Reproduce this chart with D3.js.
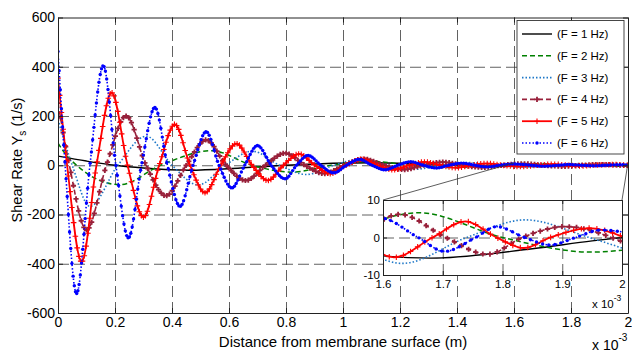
<!DOCTYPE html>
<html>
<head>
<meta charset="utf-8">
<script src="https://cdn.jsdelivr.net/npm/d3@7"></script>
<style>
  body { margin: 0; background: #fff; }
  svg { display: block; font-family: "Liberation Sans", Arial, sans-serif; }
</style>
</head>
<body>
<svg id="chart" width="632" height="353"></svg>
<script>
// ---- data (x in mm, i.e. x 10^-3 m; y in 1/s) ----
const xTicks = [0, 0.2, 0.4, 0.6, 0.8, 1, 1.2, 1.4, 1.6, 1.8, 2];
const yTicks = [-600, -400, -200, 0, 200, 400, 600];
const insetXTicks = [1.6, 1.7, 1.8, 1.9, 2];
const insetYTicks = [-10, 0, 10];
const seriesNames = ["(F = 1 Hz)", "(F = 2 Hz)", "(F = 3 Hz)", "(F = 4 Hz)", "(F = 5 Hz)", "(F = 6 Hz)"];

const f1X = [0, 0.1, 0.2, 0.3, 0.46, 0.64, 0.8, 1.1, 1.39, 1.68, 1.85, 1.95, 2];
const f1Y = [37, 17, 0, -11, -20, -11, 0, 10, 0, -5.5, -3.0, -0.9, 0];

const f2X = [0, 0.03, 0.065, 0.218, 0.36, 0.54, 0.68, 0.82, 0.96, 1.10, 1.24, 1.38, 1.52, 1.66, 1.80, 1.95, 2];
const f2Y = [90, 40, 0, -79, 0, 59, 0, -28, 0, 16, 0, -9.5, 0, 6.6, 0, -3.9, -3.4];

const f3X = [0, 0.05, 0.112, 0.21, 0.31, 0.40, 0.492, 0.587, 0.682, 0.777, 0.872, 0.967, 1.062, 1.157, 1.252, 1.347, 1.442, 1.537, 1.632, 1.74, 1.838, 1.945, 2];
const f3Y = [185, 0, -167, 0, 118, 0, -80, 0, 57, 0, -37.6, 0, 24.8, 0, -16.4, 0, 10.8, 0, -6.9, 0, 4.7, 0, -2.8];

const f4X = [0, 0.04, 0.10, 0.17, 0.239, 0.309, 0.379, 0.45, 0.52, 0.59, 0.659, 0.728, 0.797, 0.866, 0.935, 1.005, 1.074, 1.143, 1.213, 1.282, 1.351, 1.42, 1.49, 1.559, 1.628, 1.705, 1.775, 1.833, 1.905, 2];
const f4Y = [252, 0, -263, 0, 200, 0, -124, 0, 103, 0, -62, 0, 49, 0, -34, 0, 25, 0, -17.5, 0, 12.5, 0, -8.8, 0, 6.2, 0, -4.5, 0, 2.9, -1.1];

const f5X = [0, 0.032, 0.083, 0.135, 0.188, 0.244, 0.30, 0.355, 0.41, 0.463, 0.516, 0.571, 0.626, 0.681, 0.736, 0.791, 0.846, 0.901, 0.956, 1.011, 1.066, 1.121, 1.176, 1.231, 1.286, 1.341, 1.396, 1.451, 1.506, 1.561, 1.618, 1.683, 1.738, 1.79, 1.836, 1.88, 1.946, 2];
const f5Y = [354, 0, -392, 0, 295, 0, -211, 0, 166, 0, -112, 0, 88, 0, -62, 0, 46, 0, -34, 0, 25, 0, -18.5, 0, 13.5, 0, -10, 0, 7.3, 0, -5.3, 0, 4.3, 0, -2.8, 0, 2.5, 0.3];

const f6X = [0, 0.025, 0.065, 0.112, 0.159, 0.203, 0.247, 0.293, 0.34, 0.384, 0.428, 0.474, 0.52, 0.565, 0.61, 0.655, 0.70, 0.748, 0.797, 0.837, 0.877, 0.922, 0.967, 1.012, 1.057, 1.102, 1.147, 1.192, 1.237, 1.282, 1.327, 1.372, 1.417, 1.462, 1.507, 1.552, 1.595, 1.659, 1.703, 1.755, 1.79, 1.837, 1.88, 1.922, 1.965, 2];
const f6Y = [462, 0, -521, 0, 404, 0, -295, 0, 235, 0, -167, 0, 136, 0, -92, 0, 80, 0, -55, 0, 40, 0, -31, 0, 24, 0, -18.6, 0, 14.4, 0, -11.2, 0, 8.7, 0, -6.7, 0, 5.2, 0, -3.7, 0, 2.9, 0, -2.0, 0, 2.0, 1.5];

// ---- styles ----
const styles = [
  { color: "#000000", width: 1.4, dash: null },
  { color: "#008000", width: 1.5, dash: "5,3" },
  { color: "#1f78c8", width: 1.6, dash: "1.5,2" },
  { color: "#98203a", width: 1.6, dash: "5,3", marker: "plus", size: 2.6, mw: 1.8, step0: 0.009, step1: 0.012 },
  { color: "#ff0000", width: 1.8, dash: null, marker: "plus", size: 2.8, mw: 1.1, step0: 0.006, step1: 0.0125 },
  { color: "#0000ff", width: 1.6, dash: "1.5,2", marker: "dot", size: 1.7, step0: 0.004, step1: 0.01 }
];

const xsAll = [f1X, f2X, f3X, f4X, f5X, f6X];
const ysAll = [f1Y, f2Y, f3Y, f4Y, f5Y, f6Y];
const series = seriesNames.map((name, i) => ({
  name, style: styles[i],
  points: xsAll[i].map((xv, j) => [xv, ysAll[i][j]])
}));

const svg = d3.select("#chart");
const M = { l: 58, r: 628, t: 17.5, b: 313 };
const x = d3.scaleLinear().domain([0, 2]).range([M.l, M.r]);
const y = d3.scaleLinear().domain([-600, 600]).range([M.b, M.t]);

const GRID = "#3a3a3a";
const AXIS = "#222";

// marker positions along x (denser near the wall like the original mesh)
function markerGrid(st, lo, hi) {
  const g = [];
  let t = 0;
  while (t <= hi + 1e-9) {
    if (t >= lo - 1e-9) g.push(t);
    t += st.step0 + (st.step1 - st.step0) * Math.min(t / 1.8, 1.2);
  }
  return g;
}

function sampler(node) {
  const L = node.getTotalLength(), pts = [];
  for (let l = 0; l <= L; l += 0.5) {
    const p = node.getPointAtLength(l);
    pts.push([p.x, p.y]);
  }
  const pe = node.getPointAtLength(L);
  pts.push([pe.x, pe.y]);
  const bis = d3.bisector(d => d[0]).left;
  return px => {
    const i = bis(pts, px);
    if (i <= 0) return pts[0];
    if (i >= pts.length) return pts[pts.length - 1];
    const a = pts[i - 1], b = pts[i];
    const t = (px - a[0]) / ((b[0] - a[0]) || 1);
    return [px, a[1] + t * (b[1] - a[1])];
  };
}

function drawMarkers(g, st, pts) {
  if (st.marker === "plus") {
    const s = st.size;
    g.selectAll("path.mk").data(pts).join("path").attr("class", "mk")
      .attr("d", `M${-s},0H${s}M0,${-s}V${s}`)
      .attr("transform", d => `translate(${d[0]},${d[1]})`)
      .attr("stroke", st.color).attr("stroke-width", st.mw).attr("fill", "none");
  } else if (st.marker === "dot") {
    g.selectAll("circle.mk").data(pts).join("circle").attr("class", "mk")
      .attr("cx", d => d[0]).attr("cy", d => d[1]).attr("r", st.size)
      .attr("fill", st.color);
  }
}

function drawSeries(g, sx, sy, pts, st, lo, hi) {
  const line = d3.line().x(d => sx(d[0])).y(d => sy(d[1])).curve(d3.curveMonotoneX);
  const p = g.append("path").datum(pts).attr("d", line)
    .attr("fill", "none").attr("stroke", st.color).attr("stroke-width", st.width)
    .attr("stroke-dasharray", st.dash);
  if (st.marker) {
    const at = sampler(p.node());
    const mpts = markerGrid(st, lo, hi).map(t => at(sx(t)));
    drawMarkers(g.append("g"), st, mpts);
  }
}

// ---- main grid ----
const defs = svg.append("defs");
defs.append("clipPath").attr("id", "plotClip").append("rect")
  .attr("x", M.l).attr("y", M.t).attr("width", M.r - M.l).attr("height", M.b - M.t);

svg.append("g").attr("transform", `translate(0,${M.b})`)
  .call(d3.axisBottom(x).tickValues(xTicks.slice(1, -1)).tickSize(-(M.b - M.t)).tickFormat(""))
  .call(g => g.select(".domain").remove())
  .call(g => g.selectAll("line").attr("stroke", GRID).attr("stroke-width", 0.8).attr("stroke-dasharray", "11,5"));
svg.append("g").attr("transform", `translate(${M.l},0)`)
  .call(d3.axisLeft(y).tickValues(yTicks.slice(1, -1)).tickSize(-(M.r - M.l)).tickFormat(""))
  .call(g => g.select(".domain").remove())
  .call(g => g.selectAll("line").attr("stroke", GRID).attr("stroke-width", 0.8).attr("stroke-dasharray", "11,5"));

// ---- main curves ----
const plot = svg.append("g").attr("clip-path", "url(#plotClip)");
series.forEach(s => drawSeries(plot.append("g"), x, y, s.points, s.style, 0, 2));

// ---- main axes (ticks inside, box) ----
function styleAxis(g, fs) {
  g.attr("font-family", null).attr("font-size", fs);
  g.selectAll(".domain").attr("stroke", AXIS).attr("stroke-width", 1);
  g.selectAll(".tick line").attr("stroke", AXIS);
  g.selectAll("text").attr("fill", "#000");
}
svg.append("g").attr("transform", `translate(0,${M.b})`)
  .call(d3.axisBottom(x).tickValues(xTicks).tickSizeInner(-5).tickSizeOuter(0).tickPadding(4).tickFormat(d => String(d)))
  .call(g => styleAxis(g, 14));
svg.append("g").attr("transform", `translate(0,${M.t})`)
  .call(d3.axisTop(x).tickValues(xTicks).tickSizeInner(-5).tickSizeOuter(0).tickFormat(""))
  .call(g => styleAxis(g, 14));
svg.append("g").attr("transform", `translate(${M.l},0)`)
  .call(d3.axisLeft(y).tickValues(yTicks).tickSizeInner(-5).tickSizeOuter(0).tickPadding(3).tickFormat(d => String(d)))
  .call(g => styleAxis(g, 14));
svg.append("g").attr("transform", `translate(${M.r},0)`)
  .call(d3.axisRight(y).tickValues(yTicks).tickSizeInner(-5).tickSizeOuter(0).tickFormat(""))
  .call(g => styleAxis(g, 14));

// axis titles
svg.append("text").attr("x", 343).attr("y", 347).attr("text-anchor", "middle")
  .attr("font-size", 15).text("Distance from membrane surface (m)");
const mult = svg.append("text").attr("x", 592).attr("y", 350).attr("font-size", 14);
mult.append("tspan").text("x 10");
mult.append("tspan").attr("dy", -9).attr("font-size", 10).text("-3");

const yt = svg.append("text").attr("transform", "translate(22,160) rotate(-90)")
  .attr("text-anchor", "middle").attr("font-size", 14.5);
yt.append("tspan").text("Shear Rate Y");
yt.append("tspan").attr("dy", 4).attr("font-size", 10).text("s");
yt.append("tspan").attr("dy", -4).text(" (1/s)");

// ---- inset ----
const I = { l: 383, r: 622, t: 200, b: 275 };
const ix = d3.scaleLinear().domain([1.6, 2]).range([I.l, I.r]);
const iy = d3.scaleLinear().domain([-10, 10]).range([I.b, I.t]);

// connector lines from zoomed region to inset
const connectors = [[1.6, I.l], [2, I.r]];
svg.append("g").selectAll("line").data(connectors).join("line")
  .attr("x1", d => x(d[0])).attr("y1", y(10)).attr("x2", d => d[1]).attr("y2", I.t)
  .attr("stroke", "#333").attr("stroke-width", 0.8);

const inset = svg.append("g");
inset.append("rect").attr("x", I.l).attr("y", I.t).attr("width", I.r - I.l).attr("height", I.b - I.t)
  .attr("fill", "#fff");
defs.append("clipPath").attr("id", "insetClip").append("rect")
  .attr("x", I.l).attr("y", I.t).attr("width", I.r - I.l).attr("height", I.b - I.t);

inset.append("g").attr("transform", `translate(0,${I.b})`)
  .call(d3.axisBottom(ix).tickValues(insetXTicks.slice(1, -1)).tickSize(-(I.b - I.t)).tickFormat(""))
  .call(g => g.select(".domain").remove())
  .call(g => g.selectAll("line").attr("stroke", GRID).attr("stroke-width", 0.8).attr("stroke-dasharray", "11,5"));
inset.append("g").attr("transform", `translate(${I.l},0)`)
  .call(d3.axisLeft(iy).tickValues([0]).tickSize(-(I.r - I.l)).tickFormat(""))
  .call(g => g.select(".domain").remove())
  .call(g => g.selectAll("line").attr("stroke", GRID).attr("stroke-width", 0.8).attr("stroke-dasharray", "11,5"));

const iplot = inset.append("g").attr("clip-path", "url(#insetClip)");
series.forEach(s => {
  const first = s.points.findIndex(d => d[0] >= 1.6);
  const sub = s.points.slice(Math.max(0, first - 2));
  drawSeries(iplot.append("g"), ix, iy, sub, s.style, 1.6, 2);
});

inset.append("g").attr("transform", `translate(0,${I.b})`)
  .call(d3.axisBottom(ix).tickValues(insetXTicks).tickSizeInner(-4).tickSizeOuter(0).tickPadding(5).tickFormat(d => String(d)))
  .call(g => styleAxis(g, 11.5));
inset.append("g").attr("transform", `translate(0,${I.t})`)
  .call(d3.axisTop(ix).tickValues(insetXTicks).tickSizeInner(-4).tickSizeOuter(0).tickFormat(""))
  .call(g => styleAxis(g, 11.5));
inset.append("g").attr("transform", `translate(${I.l},0)`)
  .call(d3.axisLeft(iy).tickValues(insetYTicks).tickSizeInner(-4).tickSizeOuter(0).tickPadding(3).tickFormat(d => String(d)))
  .call(g => styleAxis(g, 11.5));
inset.append("g").attr("transform", `translate(${I.r},0)`)
  .call(d3.axisRight(iy).tickValues(insetYTicks).tickSizeInner(-4).tickSizeOuter(0).tickFormat(""))
  .call(g => styleAxis(g, 11.5));

const imult = inset.append("text").attr("x", 592).attr("y", 308).attr("font-size", 11.5);
imult.append("tspan").text("x 10");
imult.append("tspan").attr("dy", -7).attr("font-size", 8.5).text("-3");

// ---- legend ----
const LG = { x: 517, y: 20.5, w: 107, h: 133.5, row0: 34, dy: 21.8 };
const legend = svg.append("g");
legend.append("rect").attr("x", LG.x).attr("y", LG.y).attr("width", LG.w).attr("height", LG.h)
  .attr("fill", "#fff").attr("stroke", "#333").attr("stroke-width", 0.9);
series.forEach((s, i) => {
  const yy = LG.row0 + i * LG.dy;
  const g = legend.append("g");
  g.append("line").attr("x1", LG.x + 5).attr("x2", LG.x + 35).attr("y1", yy).attr("y2", yy)
    .attr("stroke", s.style.color).attr("stroke-width", s.style.width).attr("stroke-dasharray", s.style.dash);
  if (s.style.marker) drawMarkers(g.append("g"), s.style, [[LG.x + 20, yy]]);
  g.append("text").attr("x", LG.x + 40).attr("y", yy).attr("dy", "0.35em")
    .attr("font-size", 11.5).text(s.name);
});
</script>
</body>
</html>
